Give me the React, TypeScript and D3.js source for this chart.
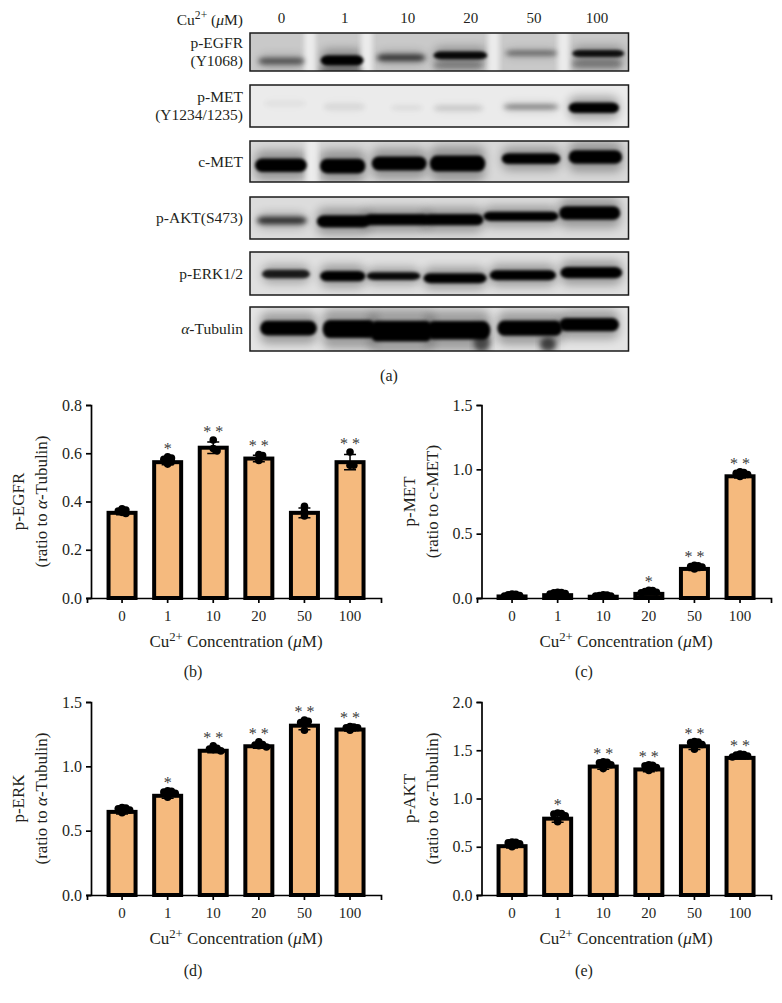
import { useEffect, useRef } from 'react';
import * as d3 from 'd3';

const FONT = '"Liberation Serif", serif';

// western blot rows
const laneLabels = ['0', '1', '10', '20', '50', '100'];
type Band = [number, number, number, number, number]; // lane from, lane to, y fraction, thickness fraction, darkness

const egfrBands: Band[] = [
  [0.13, 0.87, 0.74, 0.16, 0.55], [1.12, 1.8, 0.72, 0.27, 1], [2.01, 2.78, 0.65, 0.15, 0.75],
  [2.91, 3.76, 0.59, 0.2, 0.95], [4.05, 4.87, 0.53, 0.1, 0.55], [5.11, 5.93, 0.54, 0.18, 0.9],
  [1.1, 1.8, 0.97, 0.1, 0.4], [2.9, 3.7, 0.86, 0.2, 0.25], [5.1, 5.9, 0.82, 0.22, 0.3],
];
const metBands: Band[] = [
  [0.21, 0.9, 0.44, 0.11, 0.04], [1.16, 1.83, 0.52, 0.13, 0.07], [2.22, 2.75, 0.54, 0.07, 0.08],
  [2.91, 3.7, 0.55, 0.08, 0.18], [4.02, 4.89, 0.52, 0.08, 0.55], [5.05, 5.85, 0.54, 0.25, 1],
];
const cmetBands: Band[] = [
  [0.08, 0.9, 0.59, 0.33, 1], [1.11, 1.83, 0.61, 0.36, 1], [1.93, 2.8, 0.55, 0.34, 1],
  [2.85, 3.73, 0.55, 0.39, 1], [3.99, 4.92, 0.43, 0.26, 1], [5.05, 5.9, 0.39, 0.33, 1],
];
const aktBands: Band[] = [
  [0.11, 0.9, 0.56, 0.17, 0.75], [1.06, 1.9, 0.58, 0.29, 1], [1.8, 2.85, 0.54, 0.27, 1],
  [2.75, 3.7, 0.54, 0.27, 1], [3.7, 4.89, 0.46, 0.22, 1], [4.9, 5.87, 0.38, 0.32, 1],
];
const erkBands: Band[] = [
  [0.19, 0.95, 0.51, 0.2, 0.85], [1.11, 1.83, 0.56, 0.24, 1], [1.85, 2.7, 0.56, 0.18, 0.95],
  [2.75, 3.75, 0.61, 0.23, 1], [3.8, 4.85, 0.54, 0.23, 1], [4.92, 5.9, 0.48, 0.26, 1],
];
const tubulinBands: Band[] = [
  [0.16, 1.06, 0.48, 0.33, 1], [1.15, 2.0, 0.5, 0.41, 1], [1.9, 2.9, 0.55, 0.47, 1],
  [2.8, 3.81, 0.53, 0.42, 1], [3.92, 4.95, 0.48, 0.35, 1], [4.9, 5.85, 0.4, 0.3, 1],
  [3.55, 3.8, 0.8, 0.4, 0.5], [4.6, 4.85, 0.85, 0.3, 0.6],
];

const blotRows = [
  { top: 33, bottom: 71, bg: '#c9c9c9', bands: egfrBands, gaps: [0.95, 1.85, 3.86, 4.97], label: ['p-EGFR', '(Y1068)'] },
  { top: 85, bottom: 127, bg: '#ebebeb', bands: metBands, gaps: [], label: ['p-MET', '(Y1234/1235)'] },
  { top: 141, bottom: 182, bg: '#d8d8d8', bands: cmetBands, gaps: [0.98], label: ['c-MET'] },
  { top: 197, bottom: 239, bg: '#dcdcdc', bands: aktBands, gaps: [], label: ['p-AKT(S473)'] },
  { top: 252, bottom: 295, bg: '#e0e0e0', bands: erkBands, gaps: [], label: ['p-ERK1/2'] },
  { top: 307, bottom: 351, bg: '#e4e4e4', bands: tubulinBands, gaps: [], label: ['α-Tubulin'] },
];

// bar panels: one list of replicate readings per concentration
const categories = ['0', '1', '10', '20', '50', '100'];

const egfrMeans = [0.353, 0.563, 0.623, 0.578, 0.353, 0.563];
const egfrPoints = [
  [0.37, 0.365, 0.36, 0.355, 0.35], [0.585, 0.58, 0.575, 0.57, 0.565, 0.555], [0.655, 0.62, 0.61],
  [0.595, 0.59, 0.57], [0.38, 0.36, 0.34], [0.605, 0.55, 0.55],
];
const egfrSig = ['', '*', '* *', '* *', '', '* *'];

const metMeans = [0.012, 0.022, 0.01, 0.032, 0.226, 0.946];
const metPoints = [
  [0.03, 0.028, 0.025, 0.02, 0.015], [0.045, 0.042, 0.04, 0.035, 0.03], [0.025, 0.022, 0.02, 0.015, 0.015],
  [0.06, 0.058, 0.05, 0.045, 0.04], [0.255, 0.25, 0.245, 0.24, 0.225], [0.98, 0.975, 0.97, 0.96, 0.945],
];
const metSig = ['', '', '', '*', '* *', '* *'];

const erkMeans = [0.646, 0.771, 1.121, 1.156, 1.316, 1.286];
const erkPoints = [
  [0.68, 0.675, 0.67, 0.66, 0.64], [0.81, 0.805, 0.8, 0.79, 0.76], [1.16, 1.14, 1.135, 1.13, 1.12],
  [1.19, 1.17, 1.165, 1.16, 1.15], [1.36, 1.35, 1.34, 1.33, 1.28], [1.31, 1.305, 1.3, 1.3, 1.28],
];
const erkSig = ['', '*', '* *', '* *', '* *', '* *'];

const aktMeans = [0.506, 0.791, 1.331, 1.301, 1.541, 1.421];
const aktPoints = [
  [0.55, 0.545, 0.54, 0.53, 0.5], [0.85, 0.845, 0.84, 0.82, 0.76], [1.38, 1.375, 1.37, 1.35, 1.31],
  [1.35, 1.345, 1.34, 1.32, 1.29], [1.59, 1.585, 1.58, 1.56, 1.51], [1.46, 1.455, 1.45, 1.44, 1.43],
];
const aktSig = ['', '*', '* *', '* *', '* *', '* *'];

const panels = [
  { left: 87, right: 381, axisX: 91, top: 405, bottom: 598, max: 0.8, ticks: [0, 0.2, 0.4, 0.6, 0.8], means: egfrMeans, points: egfrPoints, sig: egfrSig, name: 'p-EGFR', ratio: 'α-Tubulin', letter: '(b)', labelX: 236, letterX: 193, letterY: 677 },
  { left: 477, right: 771, axisX: 481.5, top: 405, bottom: 598, max: 1.5, ticks: [0, 0.5, 1, 1.5], means: metMeans, points: metPoints, sig: metSig, name: 'p-MET', ratio: 'c-MET', letter: '(c)', labelX: 626, letterX: 584, letterY: 677 },
  { left: 87, right: 381, axisX: 91, top: 702, bottom: 895, max: 1.5, ticks: [0, 0.5, 1, 1.5], means: erkMeans, points: erkPoints, sig: erkSig, name: 'p-ERK', ratio: 'α-Tubulin', letter: '(d)', labelX: 236, letterX: 193, letterY: 976 },
  { left: 477, right: 771, axisX: 481.5, top: 702, bottom: 895, max: 2, ticks: [0, 0.5, 1, 1.5, 2], means: aktMeans, points: aktPoints, sig: aktSig, name: 'p-AKT', ratio: 'α-Tubulin', letter: '(e)', labelX: 626, letterX: 584, letterY: 976 },
];

// spreads replicates sideways when they would sit on top of each other
function swarm(values: number[], y: (v: number) => number, r: number) {
  const placed: { v: number; dx: number }[] = [];
  const slots = [0, 1, -1, 2, -2, 3, -3];
  [...values].sort(d3.descending).forEach(v => {
    const dx = slots
      .map(s => s * r)
      .find(o => placed.every(p => Math.hypot(p.dx - o, y(p.v) - y(v)) >= r * 0.95)) ?? 0;
    placed.push({ v, dx });
  });
  return placed;
}

function addCuLabel(sel: d3.Selection<SVGTextElement, unknown, null, undefined>, suffix: string) {
  sel.append('tspan').text('Cu');
  sel.append('tspan').attr('dy', -6).attr('font-size', '0.75em').text('2+');
  sel.append('tspan').attr('dy', 6).text(suffix);
  sel.append('tspan').attr('font-style', 'italic').text('μ');
  sel.append('tspan').text('M)');
}

export default function App() {
  const svgRef = useRef<SVGSVGElement>(null);

  useEffect(() => {
    if (!svgRef.current) return;
    const svg = d3.select(svgRef.current);
    svg.selectAll('*').remove();
    svg.attr('font-family', FONT).attr('fill', '#231f20');

    const defs = svg.append('defs');
    const blur = (id: string, amount: number) => defs.append('filter').attr('id', id)
      .attr('x', '-30%').attr('y', '-150%').attr('width', '160%').attr('height', '400%')
      .append('feGaussianBlur').attr('stdDeviation', amount);
    blur('core', 1.5);
    blur('soft', 2.4);
    blur('halo', 5);

    // blot panel (a)
    const laneX = d3.scaleLinear().domain([0, 6]).range([250, 628.5]);
    const head = svg.append('g').attr('font-size', 15.5);
    const cuHead = head.append('text').attr('x', 243).attr('y', 25).attr('text-anchor', 'end');
    addCuLabel(cuHead, ' (');
    head.selectAll('text.lane').data(laneLabels).join('text')
      .attr('class', 'lane')
      .attr('x', (_, i) => laneX(i + 0.5))
      .attr('y', 23)
      .attr('text-anchor', 'middle')
      .attr('font-size', 15)
      .text(d => d);

    blotRows.forEach((row, idx) => {
      const y = d3.scaleLinear().domain([0, 1]).range([row.top, row.bottom]);
      const w = laneX.range()[1] - laneX.range()[0];
      const clipId = `blot-${idx}`;
      defs.append('clipPath').attr('id', clipId).append('rect')
        .attr('x', laneX(0)).attr('y', row.top).attr('width', w).attr('height', row.bottom - row.top);

      const g = svg.append('g').attr('clip-path', `url(#${clipId})`);
      g.append('rect').attr('x', laneX(0)).attr('y', row.top).attr('width', w).attr('height', row.bottom - row.top).attr('fill', row.bg);
      // soft glow around each band, then the dark core
      g.selectAll('rect.halo').data(row.bands).join('rect')
        .attr('class', 'halo')
        .attr('x', d => laneX(d[0]))
        .attr('width', d => laneX(d[1]) - laneX(d[0]))
        .attr('y', d => y(d[2] - d[3] * 1.1))
        .attr('height', d => y(d[3] * 2.2) - y(0))
        .attr('rx', 8)
        .attr('fill', '#000')
        .attr('opacity', d => d[4] * 0.3)
        .attr('filter', 'url(#halo)');
      g.selectAll('rect.gap').data(row.gaps).join('rect')
        .attr('class', 'gap')
        .attr('x', d => laneX(d - 0.09))
        .attr('y', row.top - 6)
        .attr('width', laneX(0.18) - laneX(0))
        .attr('height', row.bottom - row.top + 12)
        .attr('fill', '#ececec')
        .attr('filter', 'url(#soft)');
      g.selectAll('rect.core').data(row.bands).join('rect')
        .attr('class', 'core')
        .attr('x', d => laneX(d[0]))
        .attr('width', d => laneX(d[1]) - laneX(d[0]))
        .attr('y', d => y(d[2] - d[3] / 2))
        .attr('height', d => y(d[3]) - y(0))
        .attr('rx', 7)
        .attr('ry', d => (y(d[3]) - y(0)) / 2)
        .attr('fill', '#000')
        .attr('opacity', d => d[4])
        .attr('filter', d => (d[4] < 0.8 ? 'url(#soft)' : 'url(#core)'));
      svg.append('rect').attr('x', laneX(0)).attr('y', row.top).attr('width', w).attr('height', row.bottom - row.top)
        .attr('fill', 'none').attr('stroke', '#1a1a1a').attr('stroke-width', 1.5);

      const labelMid = (row.top + row.bottom) / 2;
      row.label.forEach((line, i) => {
        const ty = labelMid + 5 + (i - (row.label.length - 1) / 2) * 18;
        const t = svg.append('text').attr('x', 243).attr('y', ty).attr('text-anchor', 'end').attr('font-size', 15.5);
        if (line.startsWith('α')) {
          t.append('tspan').attr('font-style', 'italic').text('α');
          t.append('tspan').text(line.slice(1));
        } else t.text(line);
      });
    });

    svg.append('text').attr('x', 389).attr('y', 381).attr('text-anchor', 'middle').attr('font-size', 16).text('(a)');

    // bar panels
    panels.forEach(p => {
      const g = svg.append('g');
      const x = d3.scaleBand<string>().domain(categories).range([p.left, p.right])
        .paddingInner(0).paddingOuter(0.224).align(0.6);
      const y = d3.scaleLinear().domain([0, p.max]).range([p.bottom, p.top]);
      const cx = (i: number) => (x(categories[i]) as number) + x.bandwidth() / 2;

      const barW = 27;
      g.selectAll('rect.bar').data(p.means).join('rect')
        .attr('class', 'bar')
        .attr('x', (_, i) => cx(i) - barW / 2)
        .attr('y', d => y(d))
        .attr('width', barW)
        .attr('height', d => y(0) - y(d))
        .attr('fill', '#f5ba7e')
        .attr('stroke', '#000')
        .attr('stroke-width', 4);

      // error bars
      const errs = p.points.map((vals, i) => ({ m: p.means[i], sd: d3.deviation(vals) ?? 0 }));
      const errLine = d3.line<[number, number]>();
      g.selectAll('path.err').data(errs).join('path')
        .attr('class', 'err')
        .attr('d', (d, i) => {
          const c = cx(i);
          return [
            errLine([[c, y(d.m - d.sd)], [c, y(d.m + d.sd)]]),
            errLine([[c - 6, y(d.m + d.sd)], [c + 6, y(d.m + d.sd)]]),
            errLine([[c - 6, y(d.m - d.sd)], [c + 6, y(d.m - d.sd)]]),
          ].join('');
        })
        .attr('fill', 'none')
        .attr('stroke', '#000')
        .attr('stroke-width', 1.5);

      const r = 3.8;
      p.points.forEach((vals, i) => {
        g.append('g').selectAll('circle').data(swarm(vals, y, r)).join('circle')
          .attr('cx', d => cx(i) + d.dx)
          .attr('cy', d => y(d.v))
          .attr('r', r)
          .attr('fill', '#000');
      });

      g.selectAll('text.sig').data(p.sig).join('text')
        .attr('class', 'sig')
        .attr('x', (_, i) => cx(i))
        .attr('y', (_, i) => y(d3.max(p.points[i]) as number) - 3)
        .attr('text-anchor', 'middle')
        .attr('font-size', 16)
        .attr('fill', '#3a3a3a')
        .text(d => d);

      const xAxis = g.append('g')
        .attr('transform', `translate(0,${p.bottom})`)
        .call(d3.axisBottom(x).tickSizeOuter(0).tickSize(5).tickPadding(7));
      const yAxis = g.append('g')
        .attr('transform', `translate(${p.axisX},0)`)
        .call(d3.axisLeft(y).tickValues(p.ticks).tickSize(5).tickPadding(4).tickFormat(d3.format('.1f')));
      [xAxis, yAxis].forEach(a => {
        a.selectAll('path, line').attr('stroke', '#000').attr('stroke-width', 1.7);
        a.selectAll('text').attr('fill', '#231f20').attr('font-family', FONT);
      });
      xAxis.selectAll('text').attr('font-size', 15);
      yAxis.selectAll('text').attr('font-size', 16);

      const yMid = (p.top + p.bottom) / 2;
      const tx = p.axisX - 91;
      g.append('text')
        .attr('transform', `translate(${tx + 24},${yMid}) rotate(-90)`)
        .attr('text-anchor', 'middle').attr('font-size', 17).text(p.name);
      const ratioText = g.append('text')
        .attr('transform', `translate(${tx + 47},${yMid}) rotate(-90)`)
        .attr('text-anchor', 'middle').attr('font-size', 17);
      ratioText.append('tspan').text('(ratio to ');
      if (p.ratio.startsWith('α')) {
        ratioText.append('tspan').attr('font-style', 'italic').text('α');
        ratioText.append('tspan').text(p.ratio.slice(1) + ')');
      } else ratioText.append('tspan').text(p.ratio + ')');

      const xLabel = g.append('text')
        .attr('x', p.labelX).attr('y', p.bottom + 49)
        .attr('text-anchor', 'middle').attr('font-size', 17);
      addCuLabel(xLabel, ' Concentration (');

      g.append('text').attr('x', p.letterX).attr('y', p.letterY)
        .attr('text-anchor', 'middle').attr('font-size', 16).text(p.letter);
    });
  }, []);

  return (
    <svg
      ref={svgRef}
      width={782}
      height={1003}
      style={{ position: 'absolute', left: 0, top: 0, display: 'block', background: '#fff' }}
    />
  );
}
